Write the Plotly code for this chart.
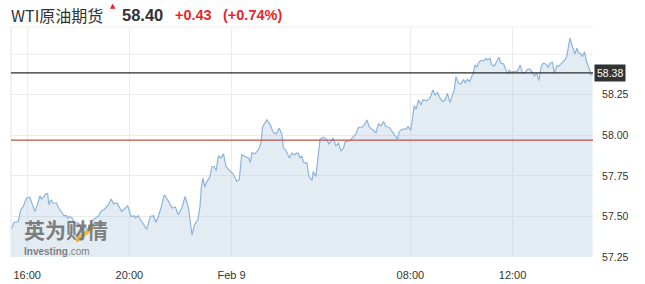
import plotly.graph_objects as go

# ---------------- data ----------------
feb8_times = ["15:23","15:29","15:39","15:45","15:51","15:58","16:06","16:12","16:18","16:24",
              "16:30","16:34","16:40","16:43","16:48","16:51","16:56","17:01","17:09","17:14",
              "17:20","17:27","17:32","17:35","17:40","17:46","17:52","18:00","18:08","18:17",
              "18:23","18:30","18:35","18:40","18:47","18:53","19:02","19:11","19:17","19:23",
              "19:31","19:42","19:50","19:56","20:04","20:12","20:15","20:21","20:25","20:33",
              "20:41","20:49","20:57","21:02","21:08","21:15","21:22","21:32","21:40","21:48",
              "21:55","22:03","22:11","22:19","22:27","22:33","22:41","22:46","22:49","22:53",
              "22:57","23:02","23:08","23:14","23:19","23:24","23:29","23:35","23:41","23:47",
              "23:55"]
feb8_prices = [57.422,57.463,57.469,57.541,57.562,57.613,57.619,57.572,57.531,57.572,
               57.627,57.607,57.623,57.638,57.640,57.572,57.603,57.583,57.583,57.552,
               57.531,57.504,57.506,57.490,57.500,57.490,57.455,57.463,57.418,57.435,
               57.408,57.449,57.480,57.490,57.500,57.531,57.546,57.572,57.607,57.578,
               57.583,57.531,57.552,57.566,57.500,57.504,57.490,57.504,57.484,57.455,
               57.422,57.500,57.504,57.463,57.500,57.558,57.634,57.592,57.552,57.558,
               57.510,57.552,57.623,57.552,57.387,57.449,57.480,57.562,57.681,57.736,
               57.681,57.716,57.736,57.808,57.808,57.783,57.874,57.860,57.886,57.808,
               57.783]

feb9_times = ["00:04","00:12","00:18","00:24","00:32","00:40","00:44","00:48","00:55","01:03",
              "01:09","01:13","01:23","01:31","01:38","01:45","01:52","01:58","02:02","02:08",
              "02:16","02:22","02:28","02:33","02:37","02:41","02:45","02:49","02:57","03:02",
              "03:09","03:12","03:18","03:24","03:28","03:36","03:44","03:49","03:56","03:59",
              "04:05","04:11","04:17","04:23","04:27","04:33","04:38","04:46","04:52","04:58",
              "05:06","05:12","05:18","05:23","05:31","05:39","05:45","05:51","05:57",
              "07:02","07:10","07:16","07:24","07:30","07:34","07:42","07:50","07:55","08:01",
              "08:06","08:09","08:14","08:19","08:25","08:29","08:39","08:46","08:53","08:58",
              "09:04","09:10","09:16","09:22","09:27","09:33","09:40","09:43","09:47","09:53",
              "09:58","10:05","10:09","10:14","10:19","10:24","10:28","10:32","10:36","10:40",
              "10:45","10:52","10:58","11:01","11:07","11:11","11:17","11:23","11:28","11:33",
              "11:39","11:44","11:49","11:52","11:57","12:02","12:10","12:14","12:18","12:23",
              "12:29","12:36","12:41","12:47","12:51","12:57","13:02","13:07","13:12","13:18",
              "13:24","13:28","13:34","13:38","13:44","13:49","13:56","14:03","14:07","14:11",
              "14:15","14:20","14:27","14:31","14:35","14:41","14:44","14:49","14:54","15:00",
              "15:04","15:08"]
feb9_prices = [57.763,57.716,57.726,57.880,57.869,57.860,57.833,57.894,57.886,57.911,
               57.952,58.054,58.095,58.065,58.017,58.009,58.044,58.009,57.921,57.906,
               57.860,57.890,57.880,57.890,57.890,57.860,57.874,57.833,57.829,57.746,
               57.722,57.777,57.746,57.890,57.977,57.989,57.972,57.948,57.972,57.983,
               57.935,57.952,57.906,57.921,57.962,57.962,57.968,57.993,58.009,58.050,
               58.050,58.065,58.095,58.054,58.038,58.017,58.071,58.058,58.085,
               58.054,58.050,58.030,57.997,57.977,58.023,58.038,58.038,58.054,58.030,
               58.112,58.182,58.161,58.219,58.188,58.219,58.214,58.229,58.280,58.249,
               58.264,58.229,58.208,58.219,58.260,58.202,58.260,58.276,58.362,58.321,
               58.317,58.342,58.325,58.346,58.331,58.366,58.387,58.434,58.420,58.445,
               58.461,58.461,58.475,58.465,58.475,58.434,58.428,58.454,58.482,58.445,
               58.440,58.408,58.379,58.403,58.387,58.393,58.393,58.408,58.434,58.387,
               58.387,58.408,58.408,58.387,58.366,58.383,58.337,58.420,58.445,58.440,
               58.420,58.445,58.451,58.383,58.428,58.428,58.448,58.465,58.485,58.537,
               58.599,58.551,58.502,58.537,58.510,58.502,58.485,58.516,58.454,58.414,
               58.373,58.380]

if len(feb8_times) != len(feb8_prices) or len(feb9_times) != len(feb9_prices):
    raise SystemExit(f"length mismatch {len(feb8_times)} {len(feb8_prices)} {len(feb9_times)} {len(feb9_prices)}")

times = ["2021-02-08 " + t for t in feb8_times] + ["2021-02-09 " + t for t in feb9_times]
prices = feb8_prices + feb9_prices

last_price = 58.385
last_label = "58.38"
prev_close = 57.97
y_ticks = [57.25, 57.50, 57.75, 58.00, 58.25]
y_tick_text = ["57.25", "57.50", "57.75", "58.00", "58.25"]
x_ticks = ["2021-02-08 16:00", "2021-02-08 20:00", "2021-02-09 00:00",
           "2021-02-09 08:00", "2021-02-09 12:00"]
x_tick_text = ["16:00", "20:00", "Feb 9", "08:00", "12:00"]

title_name = "WTI原油期货"
title_price = "58.40"
title_change = "+0.43"
title_pct = "(+0.74%)"

# ---------------- layout geometry ----------------
W, H = 645, 284
L, R, T, B = 11, 52, 27, 27
PW, PH = W - L - R, H - T - B

def px(x):
    return (x - L) / PW

def py(y):
    return (H - B - y) / PH

FONT = "Arial, Liberation Sans, Noto Sans CJK SC, sans-serif"
CJK = "Noto Sans CJK SC, Arial, sans-serif"
RED = "#e8262c"
TXT = "#333333"

fig = go.Figure()
fig.add_trace(go.Scatter(
    x=times, y=prices, mode="lines",
    line=dict(color="#8db4dc", width=1.2),
    fill="tozeroy", fillcolor="rgba(165,192,215,0.30)",
    hoverinfo="skip", showlegend=False,
))

fig.update_layout(
    width=W, height=H,
    margin=dict(l=L, r=R, t=T, b=B, autoexpand=False),
    paper_bgcolor="white", plot_bgcolor="white",
    font=dict(family=FONT, color=TXT, size=11),
    xaxis=dict(
        type="date", automargin=False,
        range=["2021-02-08 15:22", "2021-02-09 15:09"],
        rangebreaks=[dict(bounds=[6, 7], pattern="hour")],
        tickvals=x_ticks, ticktext=x_tick_text,
        showgrid=True, gridcolor="#ececec", gridwidth=1,
        zeroline=False, showline=False,
        ticks="outside", ticklen=8, tickcolor="rgba(0,0,0,0)",
        tickfont=dict(size=11, color=TXT),
    ),
    yaxis=dict(
        side="right", automargin=False,
        range=[57.25, 58.668],
        tickvals=y_ticks, ticktext=y_tick_text,
        showgrid=True, gridcolor="#ececec", gridwidth=1,
        zeroline=False, showline=False,
        ticks="outside", ticklen=6, tickcolor="rgba(0,0,0,0)",
        tickfont=dict(size=10.5, color=TXT),
    ),
)

# extra faint grid line at 58.50 (no label in the reference)
fig.add_hline(y=58.50, line=dict(color="#ececec", width=1), layer="below")

# frame: left and top borders
fig.add_shape(type="line", xref="paper", yref="paper", x0=0, x1=0, y0=0, y1=1,
              line=dict(color="#e3e3e3", width=1))
fig.add_shape(type="line", xref="paper", yref="paper", x0=0, x1=1, y0=1, y1=1,
              line=dict(color="#eeeeee", width=1))

# reference lines
fig.add_hline(y=last_price, line=dict(color="#2b2b2b", width=1.2))
fig.add_hline(y=prev_close, line=dict(color="#c0504d", width=1.2))

# last price tag
fig.add_annotation(xref="paper", yref="y", x=1, y=last_price, xanchor="left", yanchor="middle",
                   xshift=1, text=last_label, showarrow=False,
                   font=dict(size=10.5, color="white", family=FONT),
                   bgcolor="#333333", borderpad=2)

# header
fig.add_annotation(xref="paper", yref="paper", x=px(9), y=py(15), xanchor="left", yanchor="middle",
                   text=title_name, showarrow=False, font=dict(size=16, color=TXT, family=CJK))
fig.add_annotation(xref="paper", yref="paper", x=px(107.5), y=py(6), xanchor="left", yanchor="middle",
                   text="▲", showarrow=False, font=dict(size=7, color=RED, family="DejaVu Sans"))
fig.add_annotation(xref="paper", yref="paper", x=px(120), y=py(15), xanchor="left", yanchor="middle",
                   text="<b>" + title_price + "</b>", showarrow=False, font=dict(size=16.5, color=TXT))
fig.add_annotation(xref="paper", yref="paper", x=px(173), y=py(15), xanchor="left", yanchor="middle",
                   text="<b>" + title_change + "</b>", showarrow=False, font=dict(size=14.5, color=RED))
fig.add_annotation(xref="paper", yref="paper", x=px(221), y=py(15), xanchor="left", yanchor="middle",
                   text="<b>" + title_pct + "</b>", showarrow=False, font=dict(size=14.5, color=RED))

# watermark (logo)
fig.add_annotation(xref="paper", yref="paper", x=px(23), y=py(244.5), xanchor="left", yanchor="bottom",
                   text="<b>英为财情</b>", showarrow=False, borderpad=0,
                   font=dict(size=21, color="rgba(105,105,105,0.85)", family=CJK))
fig.add_shape(type="line", xref="paper", yref="paper",
              x0=px(76), y0=py(241), x1=px(93), y1=py(227),
              line=dict(color="rgba(235,175,40,0.9)", width=4))
fig.add_annotation(xref="paper", yref="paper", x=px(23), y=py(245), xanchor="left", yanchor="top",
                   text="<b>Investing</b>.com", showarrow=False, borderpad=0,
                   font=dict(size=10, color="rgba(105,105,105,0.85)", family=FONT))

fig.write_html("out.html")
